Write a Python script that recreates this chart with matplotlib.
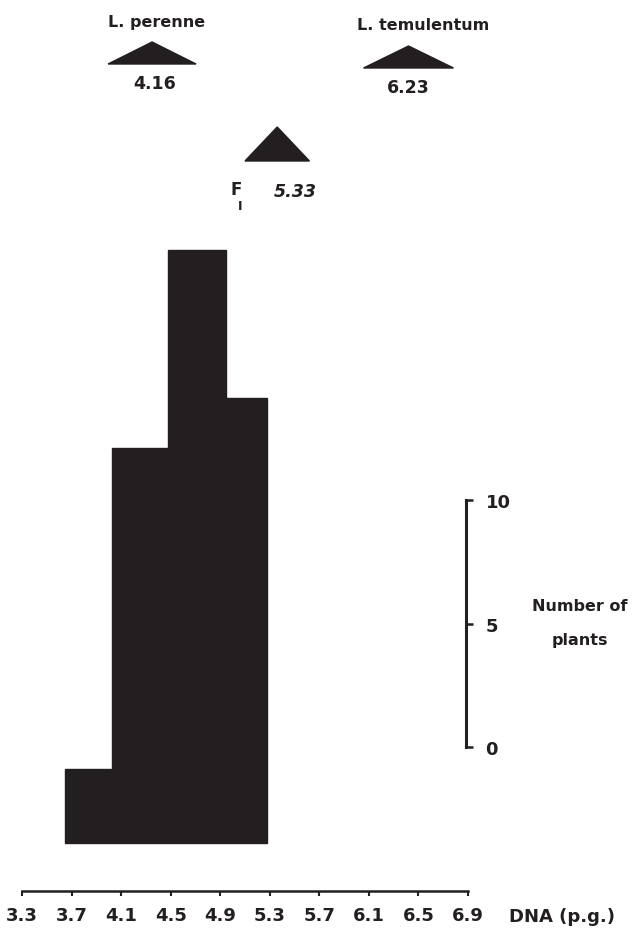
import matplotlib
matplotlib.use("Agg")
import matplotlib.pyplot as plt
from matplotlib.patches import Polygon
from matplotlib.transforms import blended_transform_factory

# ---- data ----
bin_edges = [3.65, 4.03, 4.48, 4.95, 5.28]
counts = [3, 16, 24, 18]
x_ticks = [3.3, 3.7, 4.1, 4.5, 4.9, 5.3, 5.7, 6.1, 6.5, 6.9]
x_tick_labels = ["3.3", "3.7", "4.1", "4.5", "4.9", "5.3", "5.7", "6.1", "6.5", "6.9"]
scale_ticks = [0, 5, 10]
tri_names = ["L. perenne", "L. temulentum", "F"]
tri_means = ["4.16", "6.23", "5.33"]
tri_centers = [4.35, 6.42, 5.36]      # position on DNA scale where drawn
tri_halfwidths = [0.355, 0.363, 0.26]

W, H = 632, 929
fig = plt.figure(figsize=(W / 100, H / 100), dpi=100)
plt.rcParams['font.family'] = ['DejaVu Sans']
ink = '#231f20'

def fx(px):
    return px / W

def fy(py):
    return 1 - py / H

# main axes: x from px 22 to 468, spine at py 892, bar base at py 844, 24.7 px per plant
px_per_plant = 24.7
y_bottom = -(892 - 844) / px_per_plant
y_top = (844 - 230) / px_per_plant
ax = fig.add_axes([fx(22), fy(892), fx(468) - fx(22), fy(230) - fy(892)])
ax.set_xlim(3.3, 6.9)
ax.set_ylim(y_bottom, y_top)

widths = [bin_edges[i + 1] - bin_edges[i] for i in range(len(counts))]
ax.bar(bin_edges[:-1], counts, width=widths, align='edge', color=ink,
       edgecolor=ink, linewidth=1.0)

for s in ['top', 'right', 'left']:
    ax.spines[s].set_visible(False)
ax.spines['bottom'].set_linewidth(1.8)
ax.spines['bottom'].set_color(ink)
ax.set_yticks([])
ax.set_xticks(x_ticks)
ax.set_xticklabels(x_tick_labels, fontsize=13, fontweight='bold', color=ink)
ax.tick_params(axis='x', direction='out', length=3.5, width=1.5, pad=7, colors=ink)

fig.text(fx(562), fy(917), "DNA (p.g.)", fontsize=13, fontweight='bold',
         color=ink, ha='center', va='center')

# scale bar axes (Number of plants)
ax2 = fig.add_axes([fx(456), fy(748), fx(466) - fx(456), fy(501) - fy(748)])
ax2.set_ylim(0, 10)
ax2.set_xticks([])
for s in ['top', 'left', 'bottom']:
    ax2.spines[s].set_visible(False)
ax2.spines['right'].set_linewidth(2.2)
ax2.spines['right'].set_color(ink)
ax2.patch.set_visible(False)
ax2.yaxis.tick_right()
ax2.set_yticks(scale_ticks)
ax2.set_yticklabels([str(t) for t in scale_ticks], fontsize=13, fontweight='bold', color=ink)
ax2.tick_params(axis='y', direction='out', length=5, width=1.8, pad=9, colors=ink)
fig.text(fx(580), fy(607), "Number of", fontsize=11.5, fontweight='bold', color=ink,
         ha='center', va='center')
fig.text(fx(580), fy(641), "plants", fontsize=11.5, fontweight='bold', color=ink,
         ha='center', va='center')

# triangles marking means
trans = blended_transform_factory(ax.transData, fig.transFigure)
tri_base_py = [65, 69, 162]
tri_apex_py = [43, 47, 128]
for c, hw, b, a in zip(tri_centers, tri_halfwidths, tri_base_py, tri_apex_py):
    poly = Polygon([(c - hw, fy(b)), (c + hw, fy(b)), (c, fy(a))], closed=True,
                   transform=trans, facecolor=ink, edgecolor=ink, clip_on=False)
    fig.add_artist(poly)

fig.text(fx(157), fy(23), tri_names[0], fontsize=11.5, fontweight='bold', color=ink,
         ha='center', va='center')
fig.text(fx(155), fy(84), tri_means[0], fontsize=12.5, fontweight='bold', color=ink,
         ha='center', va='center')
fig.text(fx(423), fy(25), tri_names[1], fontsize=11.5, fontweight='bold', color=ink,
         ha='center', va='center')
fig.text(fx(408), fy(88), tri_means[1], fontsize=12.5, fontweight='bold', color=ink,
         ha='center', va='center')
fig.text(fx(236), fy(190), tri_names[2], fontsize=12, fontweight='bold', color=ink,
         ha='center', va='center')
fig.text(fx(240), fy(207), "I", fontsize=9, fontweight='bold', color=ink,
         ha='center', va='center')
fig.text(fx(295), fy(192), tri_means[2], fontsize=12.5, fontweight='bold',
         fontstyle='italic', color=ink, ha='center', va='center')

fig.savefig("out.png", dpi=100, facecolor='white')
